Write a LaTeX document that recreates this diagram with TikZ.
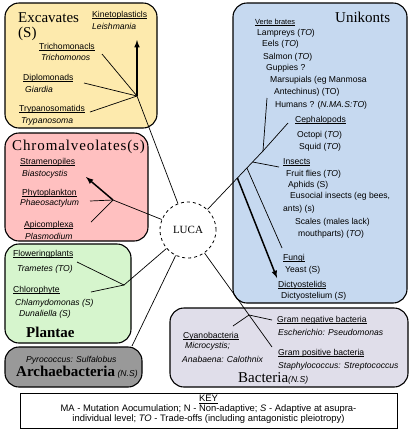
\documentclass[tikz,border=0pt]{standalone}
\usepackage{fontspec}
\setmainfont{Liberation Sans}
\newfontfamily\titlefont{Liberation Serif}
\newfontfamily\spacedfont[LetterSpace=6]{Liberation Serif}
\usepackage{tikz}
\usetikzlibrary{positioning}
\definecolor{myyellow}{RGB}{253,234,173}
\definecolor{mypink}{RGB}{255,192,192}
\definecolor{mygreen}{RGB}{214,245,205}
\definecolor{mygray}{RGB}{153,153,153}
\definecolor{myblue}{RGB}{198,217,240}
\definecolor{mylilac}{RGB}{224,222,234}
\newcommand{\sm}{\fontsize{8.6}{10}\selectfont}
\newcommand{\ul}[1]{\underline{\smash{#1}}}

\begin{document}
\begin{tikzpicture}[x=1pt,y=-1pt,inner sep=0pt]
\tikzstyle{group}=[draw=black, line width=1.1pt, rounded corners=14pt]
\tikzstyle{lbl}=[anchor=base west, font=\sm]
\tikzstyle{spec}=[anchor=base west, font=\sm\itshape]
\tikzstyle{title}=[anchor=base west, font=\fontsize{15}{17}\selectfont\titlefont]
\tikzstyle{connect}=[line width=0.7pt]
\tikzstyle{arrow}=[-latex, line width=1.5pt]
\useasboundingbox (0,0) rectangle (413,440);
% groups
\draw[group, fill=myyellow] (5,3) rectangle (157,128);
\draw[group, fill=mypink] (5,133) rectangle (148,241);
\draw[group, fill=mygreen] (5,244) rectangle (131,343);
\draw[group, fill=mygray] (5,347) rectangle (142,387);
\draw[group, fill=myblue] (233,3) rectangle (407,303);
\draw[group, fill=mylilac] (170,308) rectangle (408,387);
% titles
\node[title] (exct) at (18,22) {Excavates};
\node[title] (excs) at (18,37) {(S)};
\node[title, font=\fontsize{15}{17}\selectfont\spacedfont] (chrt) at (12,150) {Chromalveolates(s)};
\node[title, font=\fontsize{15}{17}\selectfont\titlefont\bfseries] (plat) at (26,337) {Plantae};
\node[title, font=\fontsize{15}{17}\selectfont\titlefont\bfseries] (arct) at (16,376) {Archaebacteria\,{\normalfont\sm\itshape(N.S)}};
\node[title] (unit) at (335,22) {Unikonts};
\node[title] (bact) at (238,382) {Bacteria{\normalfont\sm\itshape(N.S)}};
% excavates
\node[lbl] (kin) at (92,17) {\ul{Kinetoplasticls}};
\node[spec] (leish) at (92,29) {Leishmania};
\node[lbl] (tri) at (39,49) {\ul{Trichomonacls}};
\node[spec] (trich) at (41,60) {Trichomonos};
\node[lbl] (dip) at (23,80) {\ul{Diplomonads}};
\node[spec] (giar) at (25,92) {Giardia};
\node[lbl] (try) at (19,111) {\ul{Trypanosomatids}};
\node[spec] (tryp) at (21,123) {Trypanosoma};
% chromalveolates
\node[lbl] (stra) at (20,164) {\ul{Stramenopiles}};
\node[spec] (bias) at (22,176) {Biastocystis};
\node[lbl] (phy) at (22,195) {\ul{Phytoplankton}};
\node[spec] (phae) at (20,205) {Phaeosactylum};
\node[lbl] (api) at (24,227) {\ul{Apicomplexa}};
\node[spec] (plas) at (25,239) {Plasmodium};
% plantae
\node[lbl] (flow) at (13,256) {\ul{Floweringplants}};
\node[spec] (tram) at (17,271) {Trametes (TO)};
\node[lbl] (chl) at (13,292) {\ul{Chlorophyte}};
\node[spec] (chla) at (15,305) {Chlamydomonas (S)};
\node[spec] (duna) at (19,316) {Dunaliella (S)};
% archaebacteria
\node[spec] (pyro) at (26,362) {Pyrococcus: Sulfalobus};
% unikonts
\node[lbl, font=\fontsize{7.4}{9}\selectfont] (vert) at (255,24) {\ul{Verte brates}};
\node[lbl] (lamp) at (257,35) {Lampreys (\textit{TO})};
\node[lbl] (eels) at (262,46) {Eels (\textit{TO})};
\node[lbl] (salm) at (263,59) {Salmon (\textit{TO})};
\node[lbl] (gupp) at (266,70) {Guppies ?};
\node[lbl] (mars) at (270,82) {Marsupials (eg Manmosa};
\node[lbl] (ante) at (274,94) {Antechinus) (TO)};
\node[lbl] (huma) at (275,107) {Humans ? (\textit{N.MA.S:TO})};
\node[lbl] (ceph) at (295,122) {\ul{Cephalopods}};
\node[lbl] (octo) at (297,137) {Octopi (\textit{TO})};
\node[lbl] (squi) at (299,149) {Squid (\textit{TO})};
\node[lbl] (inse) at (283,164) {\ul{Insects}};
\node[lbl] (frui) at (286,176) {Fruit flies (\textit{TO})};
\node[lbl] (aphi) at (288,187) {Aphids (S)};
\node[lbl] (euso) at (290,198) {Eusocial insects (eg bees,};
\node[lbl] (ants) at (283,211) {ants) (s)};
\node[lbl] (scal) at (295,224) {Scales (males lack)};
\node[lbl] (mout) at (298,236) {mouthparts) (\textit{TO})};
\node[lbl] (fung) at (283,260) {\ul{Fungi}};
\node[lbl] (yeas) at (285,272) {Yeast (S)};
\node[lbl] (dict) at (278,287) {\ul{Dictyostelids}};
\node[lbl] (dicm) at (281,298) {Dictyostelium (\textit{S})};
% bacteria
\node[lbl] (gneg) at (277,322) {\ul{Gram negative bacteria}};
\node[spec] (esch) at (278,335) {Escherichio: Pseudomonas};
\node[lbl] (cyan) at (183,338) {\ul{Cyanobacteria}};
\node[spec] (micr) at (185,348) {Microcystis;};
\node[spec] (anab) at (182,362) {Anabaena: Calothnix};
\node[lbl] (gpos) at (278,355) {\ul{Gram positive bacteria}};
\node[spec] (stap) at (278,368) {Staphylococcus: Streptococcus};
% root
\node[draw, circle, dashed, line width=0.8pt, minimum size=56pt, fill=white, font=\fontsize{11}{13}\selectfont\titlefont] (luca) at (188,230) {LUCA};
% branch points and tips
\coordinate (exc) at (137,96);
\coordinate (exck) at (137,40);
\coordinate (exct1) at (102,54);
\coordinate (exct2) at (84,83);
\coordinate (exct3) at (90,112);
\coordinate (chr) at (113,200);
\coordinate (chrs) at (86,177);
\coordinate (chrp) at (90,201);
\coordinate (chra) at (91,222);
\coordinate (pla) at (124,285);
\coordinate (plaf) at (77,262);
\coordinate (plac) at (91,292);
\coordinate (arc) at (132,346);
\coordinate (bac) at (249,315);
\coordinate (bacc) at (233,326);
\coordinate (bacn) at (272,320);
\coordinate (bacp) at (272,347);
\coordinate (uni) at (263,151);
\coordinate (univ) at (267,98);
\coordinate (unic) at (288,123);
\coordinate (unid) at (237.4,178);
\coordinate (unidt) at (277,278);
\coordinate (unif) at (246.9,168);
\coordinate (uniff) at (282,248);
\coordinate (unii) at (252.6,162);
\coordinate (uniit) at (279,167);
% connectors
\path (luca) edge[connect] (exc) edge[connect] (chr) edge[connect] (pla)
  edge[connect] (arc) edge[connect] (bacp) edge[connect] (uni);
\path (exc) edge[arrow] (exck) edge[connect] (exct1) edge[connect] (exct2) edge[connect] (exct3);
\path (chr) edge[arrow] (chrs) edge[connect] (chrp) edge[connect] (chra);
\path (pla) edge[connect] (plaf) edge[connect] (plac);
\path (bac) edge[connect] (bacc) edge[connect] (bacn);
\path (uni) edge[connect] (univ) edge[connect] (unic);
\path (unid) edge[arrow] (unidt);
\path (unif) edge[connect] (uniff);
\path (unii) edge[connect] (uniit);
% key
\node[draw, line width=0.8pt, minimum width=377pt, minimum height=35pt] (keybox) at (208.5,410.5) {};
\node[align=center, font=\fontsize{9.4}{9.4}\selectfont] (key) at (208.5,412.3) {\ul{KEY}\\[1.2pt]
MA - Mutation Aocumulation; N - Non-adaptive; \textit{S} - Adaptive at asupra-\\
individual level; \textit{TO} - Trade-offs (including antagonistic pleiotropy)};
\end{tikzpicture}
\end{document}
